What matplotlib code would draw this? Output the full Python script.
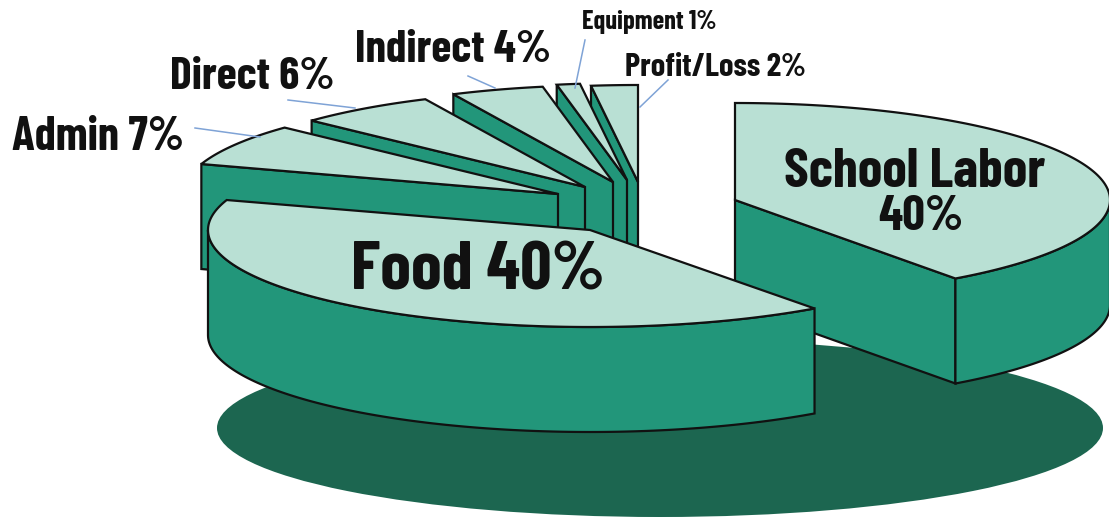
import numpy as np
import matplotlib
matplotlib.use('Agg')
import matplotlib.pyplot as plt
from matplotlib.patches import Ellipse, Polygon

# budget shares, clockwise from 12 o'clock
names = ['School Labor', 'Food', 'Admin', 'Direct', 'Indirect', 'Equipment', 'Profit/Loss']
shares = [40, 40, 7, 6, 4, 1, 2]

# ---- layout (pixels, y down) ----
RX, RY, DEPTH = 375, 97, 105
rx_food = 382    # the food slice is drawn a touch wider
apex = {'School Labor': (735, 200), 'Food': (590, 230), 'Admin': (558, 194),
        'Direct': (585, 187), 'Indirect': (613, 182), 'Equipment': (627, 180),
        'Profit/Loss': (638, 182)}
draw_order = ['School Labor', 'Profit/Loss', 'Equipment', 'Indirect', 'Direct', 'Admin', 'Food']

TOP, SIDE, SHADOW, INK, LEADER = '#b9e0d4', '#22967a', '#1c6650', '#111111', '#7fa3d6'
NARROW = ['Barlow Condensed', 'Liberation Sans', 'DejaVu Sans']

# name, x, baseline y, font size
label_pos = {'Admin': (12, 150, 34), 'Direct': (170, 89, 33), 'Indirect': (355, 62, 33),
             'Equipment': (582, 29, 19), 'Profit/Loss': (625, 76, 23.5)}
leaders = {'Admin': ((195, 128), (260, 137)), 'Direct': ((288, 100), (355, 108)),
           'Indirect': ((468, 76), (495, 88)), 'Equipment': ((585, 40), (575, 88)),
           'Profit/Loss': ((668, 80), (640, 107))}

fig = plt.figure(figsize=(11.09, 5.18), dpi=100)
ax = fig.add_axes([0, 0, 1, 1])
ax.set_xlim(0, 1109)
ax.set_ylim(518, 0)
ax.axis('off')

ax.add_patch(Ellipse((660, 428), 886, 178, fc=SHADOW, ec='none', zorder=1))

def rim(c, a, rx=RX):
    a = np.radians(a)
    return np.column_stack([c[0] + rx*np.sin(a), c[1] - RY*np.cos(a)])

def drop(pts):
    return pts + np.array([0, DEPTH])

def face(pts, z):
    ax.add_patch(Polygon(pts, closed=True, fc=SIDE, ec=INK, lw=1.6, joinstyle='miter', zorder=z))

# angle spans from the shares
edges = np.cumsum([0] + shares) * 3.6
spans = {n: (edges[i], edges[i+1]) for i, n in enumerate(names)}

z = 2
for n in draw_order:
    a0, a1 = spans[n]
    c = np.array(apex[n], dtype=float)
    rx = rx_food if n == 'Food' else RX
    # cut faces that look toward the viewer
    for a, show in ((a0, a0 >= 180), (a1, a1 <= 180)):
        if show:
            top_edge = np.vstack([c, rim(c, a, rx)])
            face(np.vstack([top_edge, drop(top_edge)[::-1]]), z)
    # curved wall, front half only
    lo, hi = max(a0, 90), min(a1, 270)
    if lo < hi:
        arc = rim(c, np.linspace(lo, hi, 120), rx)
        face(np.vstack([arc, drop(arc)[::-1]]), z)
    top = np.vstack([c, rim(c, np.linspace(a0, a1, 160), rx)])
    ax.add_patch(Polygon(top, closed=True, fc=TOP, ec=INK, lw=1.6, joinstyle='miter', zorder=z+1))
    z += 2

for n, (p, q) in leaders.items():
    ax.plot([p[0], q[0]], [p[1], q[1]], color=LEADER, lw=1.1, zorder=z)

val = dict(zip(names, shares))
for n, (x, y, fs) in label_pos.items():
    ax.text(x, y, f'{n} {val[n]}%', fontsize=fs, fontweight='bold', family=NARROW,
            color=INK, ha='left', va='baseline', zorder=z+1)
ax.text(478, 290, f"Food {val['Food']}%", fontsize=50, fontweight='bold', family=NARROW,
        color=INK, ha='center', va='baseline', zorder=z+1)
ax.text(915, 187, 'School Labor', fontsize=40, fontweight='bold', family=NARROW,
        color=INK, ha='center', va='baseline', zorder=z+1)
ax.text(921, 230, f"{val['School Labor']}%", fontsize=36, fontweight='bold', family=NARROW,
        color=INK, ha='center', va='baseline', zorder=z+1)

fig.savefig('out.png', dpi=100, facecolor='white')
